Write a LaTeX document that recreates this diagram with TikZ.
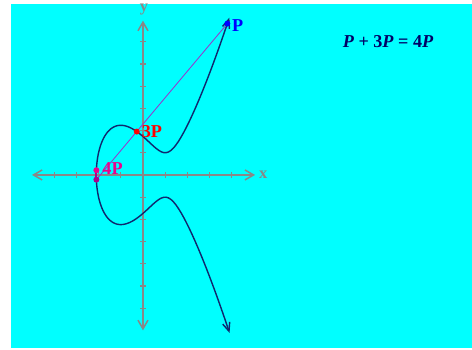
\documentclass[tikz,border=0pt]{standalone}
\usepackage{fontspec}
\setmainfont{Liberation Serif}
\usepackage{xcolor}
\usetikzlibrary{arrows.meta, positioning}
\definecolor{bgcyan}{RGB}{0,255,255}
\definecolor{axisgray}{RGB}{136,136,136}
\definecolor{curvenavy}{RGB}{16,40,110}
\definecolor{chordpurple}{RGB}{153,51,204}
\definecolor{darkmag}{RGB}{170,0,140}
\definecolor{eqnavy}{RGB}{0,0,102}
\tikzstyle{axis} = [
    draw=axisgray,
    line width=1.3pt,
    {Straight Barb[length=2.6mm,width=3mm]}-{Straight Barb[length=2.6mm,width=3mm]}
]
\tikzstyle{tick} = [
    draw=axisgray,
    line width=1pt
]
\tikzstyle{curve} = [
    draw=curvenavy,
    line width=1.2pt,
    {Straight Barb[length=2.6mm,width=2.2mm]}-{Straight Barb[length=2.6mm,width=2.2mm]}
]
\tikzstyle{chord} = [
    draw=chordpurple,
    line width=0.7pt
]
\tikzstyle{dot} = [
    circle,
    inner sep=0pt,
    minimum size=1.8mm
]
\tikzstyle{ptlabel} = [
    inner sep=0.5pt,
    font=\fontsize{15.5}{18}\selectfont\bfseries
]
\tikzstyle{axislabel} = [
    inner sep=0.5pt,
    text=axisgray,
    font=\fontsize{14}{16}\selectfont\bfseries
]

\begin{document}
\begin{tikzpicture}[x=0.666cm, y=0.666cm]

% Frame
\useasboundingbox [fill=white] (-6.44,-7.84) rectangle (14.82,7.88);
\fill [bgcyan] (-5.95,-7.79) rectangle (14.82,7.70);
\clip (-5.95,-7.79) rectangle (14.82,7.70);

% Axes
\coordinate (xl) at (-5,0);
\coordinate (xr) at (5.05,0);
\coordinate (yb) at (0,-7);
\coordinate (yt) at (0,6.95);
\draw [axis] (xl) -- (xr);
\draw [axis] (yb) -- (yt);
\foreach \i in {-4,-3,-2,-1,1,2,3,4}
    \draw [tick] (\i,-0.14) -- (\i,0.14);
\foreach \j in {-6,-5,-4,-3,-2,-1,1,2,3,4,5,6}
    \draw [tick] (-0.14,\j) -- (0.14,\j);
\node (xlab) [axislabel, right=1mm of xr] {x};
\node (ylab) [axislabel, anchor=base] at (0.05,7.35) {y};

% Curve  y^2 = x^3 - 3x + 3
\draw [curve] plot [domain=-2.4503:2.4503, samples=160]
    ({-2.1038+(\x)*(\x)}, {(\x)*sqrt(10.278-6.3114*(\x)*(\x)+(\x)*(\x)*(\x)*(\x))});

% Points
\coordinate (p1) at (3.8,6.817);
\coordinate (p3) at (-0.28,1.954);
\coordinate (m4) at (-2.0994,-0.213);
\coordinate (p4) at (-2.0994,0.213);

% Lines
\draw [chord] (p1) -- (m4);
\draw [draw=darkmag, line width=1.5pt] (m4) -- (p4);

% Dots and labels
\node (d1) [dot, fill=blue] at (p1) {};
\node (d3) [dot, fill=red] at (p3) {};
\node (d4) [dot, fill=magenta] at (p4) {};
\node (dm4) [dot, fill=darkmag] at (m4) {};

\node (l1) [ptlabel, text=blue, right=0.2mm of d1, yshift=-0.5mm] {P};
\node (l3) [ptlabel, text=red, right=0.3mm of d3] {3P};
\node (l4) [ptlabel, text=magenta, right=0.6mm of d4, yshift=0.5mm] {4P};

\node (eq) [font=\fontsize{15.5}{18}\selectfont\bfseries, text=eqnavy] at (11.04,5.99)
{\textit{P} + 3\textit{P} = 4\textit{P}};

\end{tikzpicture}
\end{document}
